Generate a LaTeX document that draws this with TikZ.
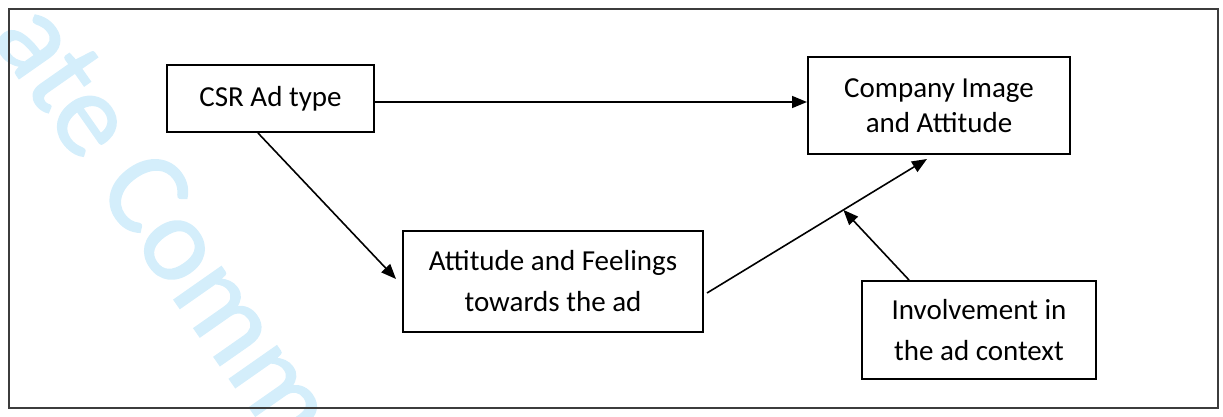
\documentclass[tikz,border=0pt]{standalone}
\usepackage{fontspec}
\setmainfont{Carlito}
\newfontfamily\wmfont[FakeBold=1.2]{Carlito}
\usetikzlibrary{arrows.meta}
\definecolor{wm}{RGB}{212,238,251}
\definecolor{framec}{RGB}{60,60,60}
\tikzset{
  box/.style={draw=black, line width=2pt, rectangle, align=center, inner sep=0pt},
  arr/.style={draw=black, line width=1.6pt, -{Triangle[length=15pt,width=12pt]}},
}
\begin{document}
\begin{tikzpicture}[x=1pt,y=-1pt]
\useasboundingbox (0,0) rectangle (1223,417);
\begin{scope}
\clip (0,0) rectangle (1223,417);
\node[anchor=base west, rotate=-55, inner sep=0pt, text=wm, font=\wmfont\fontsize{121}{125}\selectfont] (wmark) at (-10,37) {ate Comm};
\end{scope}
\node[draw=framec, line width=2pt, minimum width=1209pt, minimum height=399pt, inner sep=0pt] (frame) at (613.5,208.5) {};
\node[box, minimum width=207pt, minimum height=67pt, font=\fontsize{29}{35}\selectfont] (csr) at (270.5,98.5) {CSR Ad type};
\node[box, minimum width=262pt, minimum height=97pt, font=\fontsize{29}{35}\selectfont] (comp) at (939,105.5) {Company Image\\and Attitude};
\node[box, minimum width=300pt, minimum height=101pt, font=\fontsize{29}{41}\selectfont] (att) at (553,281.5) {Attitude and Feelings\\towards the ad};
\node[box, minimum width=234pt, minimum height=98pt, font=\fontsize{29}{41}\selectfont] (inv) at (979,330) {Involvement in\\the ad context};
\draw[arr] (csr.east |- 0,102) -- (comp.west |- 0,102);
\draw[arr] (csr.south -| 258,0) -- ([xshift=-6pt,yshift=2.5pt]att.west);
\draw[arr] ([xshift=3pt,yshift=-11.5pt]att.east) -- coordinate[pos=0.62] (mid) ([xshift=-12pt,yshift=-4pt]comp.south);
\draw[arr] ([xshift=-70pt]inv.north) -- (mid);
\end{tikzpicture}
\end{document}
